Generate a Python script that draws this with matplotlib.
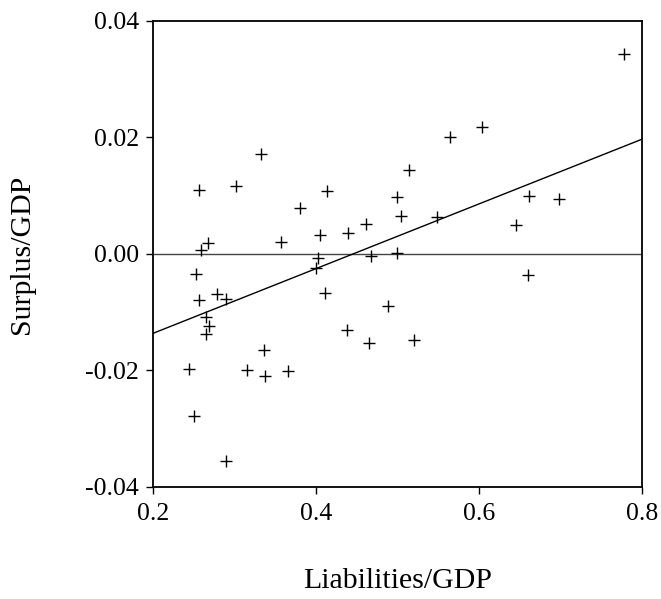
import numpy as np
import matplotlib
matplotlib.use('Agg')
import matplotlib.pyplot as plt

liabilities = [0.778, 0.332, 0.256, 0.302, 0.414, 0.499, 0.381, 0.462, 0.439,
               0.405, 0.357, 0.268, 0.259, 0.402, 0.468, 0.499, 0.400, 0.253,
               0.411, 0.279, 0.289, 0.256, 0.504, 0.514, 0.564, 0.604, 0.548,
               0.662, 0.698, 0.646, 0.660, 0.265, 0.269, 0.265, 0.488, 0.438,
               0.465, 0.336, 0.244, 0.315, 0.338, 0.366, 0.250, 0.290, 0.520]
surplus = [0.0343, 0.0172, 0.0109, 0.0116, 0.0108, 0.0097, 0.0078, 0.0051,
           0.0036, 0.0033, 0.0020, 0.0019, 0.0006, -0.0007, -0.0004, 0.0001,
           -0.0025, -0.0034, -0.0068, -0.0069, -0.0078, -0.0080, 0.0065,
           0.0144, 0.0200, 0.0217, 0.0063, 0.0100, 0.0094, 0.0049, -0.0036,
           -0.0109, -0.0123, -0.0137, -0.0090, -0.0131, -0.0153, -0.0165,
           -0.0198, -0.0200, -0.0209, -0.0201, -0.0278, -0.0355, -0.0148]

xticks = [0.2, 0.4, 0.6, 0.8]
yticks = [-0.04, -0.02, 0.00, 0.02, 0.04]

plt.rcParams['font.family'] = ['Liberation Serif', 'DejaVu Serif']

fig = plt.figure(figsize=(6.61, 5.99), dpi=100)
ax = fig.add_axes([0.2315, 0.187, 0.7395, 0.7784])

x = np.array(liabilities)
y = np.array(surplus)
slope, intercept = np.polyfit(x, y, 1)
xs = np.array([0.2, 0.8])

ax.axhline(0, color='#444444', lw=1.0)
ax.plot(xs, intercept + slope * xs, color='black', lw=1.0)
ax.plot(x, y, ls='none', marker='+', ms=8, mew=1.0, color='black')

ax.set_xlim(0.2, 0.8)
ax.set_ylim(-0.04, 0.04)
ax.set_xticks(xticks)
ax.set_xticklabels(['%.1f' % v for v in xticks])
ax.set_yticks(yticks)
ax.set_yticklabels(['%.2f' % v for v in yticks])
ax.tick_params(direction='out', length=5.3, width=1, labelsize=18.5)
ax.tick_params(axis='y', pad=5)
ax.tick_params(axis='x', pad=6.5)
for s in ax.spines.values():
    s.set_linewidth(1.3)

ax.set_xlabel('Liabilities/GDP', fontsize=21.5, labelpad=31)
ax.set_ylabel('Surplus/GDP', fontsize=21.5, labelpad=36)

fig.savefig('out.png', dpi=100)
